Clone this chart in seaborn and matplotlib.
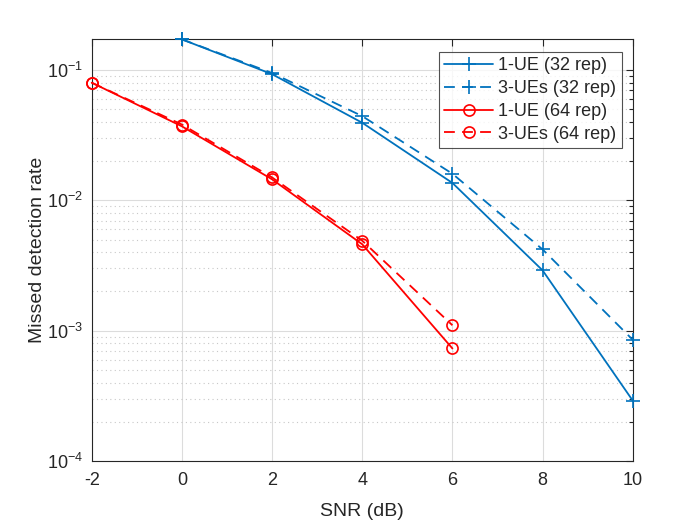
import numpy as np
import pandas as pd
import matplotlib
matplotlib.use('Agg')
import matplotlib.pyplot as plt
import seaborn as sns
from matplotlib.ticker import LogLocator, NullFormatter, FixedLocator

# =============================
# DATA
# =============================
snr_32 = [0, 2, 4, 6, 8, 10]
ue1_32 = [0.172, 0.093, 0.0394, 0.0136, 0.0029, 0.00029]
ue3_32 = [0.172, 0.095, 0.0443, 0.0160, 0.0042, 0.00085]

snr_64 = [-2, 0, 2, 4, 6]
ue1_64 = [0.080, 0.0370, 0.0145, 0.0046, 0.00073]
ue3_64 = [0.080, 0.0382, 0.0150, 0.0049, 0.00110]

labels = ['1-UE (32 rep)', '3-UEs (32 rep)', '1-UE (64 rep)', '3-UEs (64 rep)']

# =============================
# STYLE
# =============================
sns.set_style('white')
plt.rcParams['font.family'] = ['Liberation Sans', 'DejaVu Sans']
plt.rcParams['mathtext.fontset'] = 'custom'
plt.rcParams['mathtext.rm'] = 'Liberation Sans'
plt.rcParams['mathtext.it'] = 'Liberation Sans'
plt.rcParams['axes.unicode_minus'] = False

blue = '#0072BD'
red = '#FF0000'

fig = plt.figure(figsize=(7, 5.25), dpi=100)
ax = fig.add_axes([0.131, 0.122, 0.773, 0.803])

series = [
    (snr_32, ue1_32, blue, '-', '+'),
    (snr_32, ue3_32, blue, (0, (6, 4)), '+'),
    (snr_64, ue1_64, red, '-', 'o'),
    (snr_64, ue3_64, red, (0, (6, 4)), 'o'),
]
for (x, y, c, ls, mk), lab in zip(series, labels):
    sns.lineplot(x=x, y=y, ax=ax, color=c, linestyle=ls, marker=mk,
                 markersize=8 if mk == 'o' else 10, markerfacecolor='none',
                 markeredgecolor=c, markeredgewidth=1.2, linewidth=1.3,
                 label=lab, clip_on=False, zorder=3)

ax.set_yscale('log')
ax.set_xlim(-2, 10)
ax.set_ylim(1e-4, max(ue1_32))
ax.xaxis.set_major_locator(FixedLocator([-2, 0, 2, 4, 6, 8, 10]))
ax.yaxis.set_major_locator(LogLocator(base=10))
ax.yaxis.set_minor_locator(LogLocator(base=10, subs=np.arange(2, 10)))
ax.yaxis.set_minor_formatter(NullFormatter())

ax.grid(True, which='major', color='#dcdcdc', linewidth=0.8, linestyle='-')
ax.grid(True, which='minor', axis='y', color='#c8c8c8', linewidth=0.8, linestyle=(0, (1, 3)))
ax.set_axisbelow(True)

ax.tick_params(which='both', direction='in', top=True, right=True,
               labelsize=13, colors='#262626', length=5, width=0.8)
ax.tick_params(axis='x', pad=8)
ax.tick_params(axis='y', pad=6)
ax.tick_params(which='minor', length=3)
for s in ax.spines.values():
    s.set_color('#262626')
    s.set_linewidth(0.8)

ax.set_xlabel('SNR (dB)', fontsize=14, color='#262626', labelpad=10)
ax.set_ylabel('Missed detection rate', fontsize=14, color='#262626', labelpad=1)

leg = ax.legend(loc='upper right', bbox_to_anchor=(0.98, 0.97), fontsize=13,
                frameon=True, fancybox=False, edgecolor='#262626',
                handlelength=2.7, borderpad=0.3, labelspacing=0.32,
                handletextpad=0.3, borderaxespad=0)
leg.get_frame().set_linewidth(0.8)

plt.savefig('out.png', dpi=100)
